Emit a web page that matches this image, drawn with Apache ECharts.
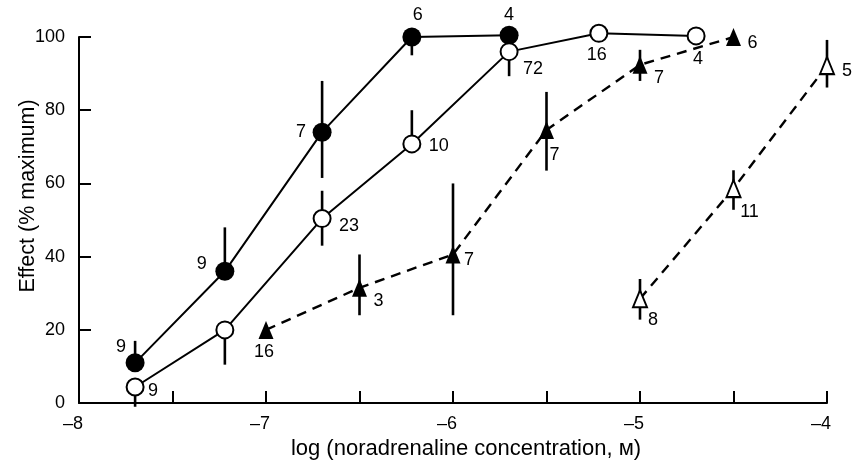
<!DOCTYPE html>
<html>
<head>
<meta charset="utf-8">
<script src="https://cdn.jsdelivr.net/npm/echarts@6/dist/echarts.min.js"></script>
<style>html,body{margin:0;padding:0;background:#fff}#c{width:852px;height:465px}</style>
</head>
<body>
<div id="c"></div>
<script>
// ---- data (log concentration, % maximum effect, error-bar ends, n) ----
const fcX = [-7.70, -7.22, -6.70, -6.22, -5.70];
const fcY = [11, 36, 74, 100, 100.5];
const fcLo = [null, null, 61.5, 95, null];
const fcHi = [17, 48, 88, null, null];
const fcN = ['9', '9', '7', '6', '4'];

const ocX = [-7.70, -7.22, -6.70, -6.22, -5.70, -5.22, -4.70];
const ocY = [4.4, 20, 50.4, 70.8, 96, 101, 100.3];
const ocLo = [-1, 10.5, 43, null, 89.3, null, null];
const ocHi = [null, null, 58, 80, null, null, null];
const ocN = ['9', '', '23', '10', '72', '16', '4'];

const ftX = [-7, -6.5, -6, -5.5, -5, -4.5];
const ftY = [20, 31.5, 40.6, 74.6, 92.4, 100];
const ftLo = [null, 24, 24, 63.5, 88, null];
const ftHi = [null, 40.6, 60, 85, 96.5, null];
const ftN = ['16', '3', '7', '7', '7', '6'];

const otX = [-5, -4.5, -4];
const otY = [28.5, 58.6, 92.2];
const otLo = [22.8, 52.8, 86.2];
const otHi = [33.9, 63.6, 99.2];
const otN = ['8', '11', '5'];

const xTicks = [-8, -7, -6, -5, -4];
const yTicks = [0, 20, 40, 60, 80, 100];

// ---- layout: label offsets (px) relative to marker centre ----
const fcOff = [[-14, -16], [-23, -7], [-21, 0], [6, -22], [0, -20]];
const ocOff = [[18, 4], [0, 0], [27, 7], [27, 2], [24, 17], [-2, 22], [2, 23]];
const ftOff = [[-2, 22], [19, 13], [16, 6], [8, 25], [19, 13], [19, 6]];
const otOff = [[13, 21], [16, 23], [20, 5]];

const FONT = 'Liberation Sans';

function pts(xs, ys, ns, offs) {
  return xs.map((x, i) => ({
    value: [x, ys[i]],
    label: {
      show: !!ns[i], formatter: ns[i], position: 'inside', offset: offs[i],
      color: '#000', fontSize: 18, fontFamily: FONT
    }
  }));
}
function errs(xs, ys, lo, hi) {
  const out = [];
  xs.forEach((x, i) => {
    if (lo[i] === null && hi[i] === null) return;
    out.push([x, lo[i] === null ? ys[i] : lo[i], hi[i] === null ? ys[i] : hi[i]]);
  });
  return out;
}
function errSeries(data) {
  return {
    type: 'custom', z: 1, silent: true,
    data: data,
    encode: { x: 0, y: [1, 2] },
    renderItem: function (params, api) {
      const x = api.value(0);
      const p1 = api.coord([x, api.value(1)]);
      const p2 = api.coord([x, api.value(2)]);
      return { type: 'line', shape: { x1: p1[0], y1: p1[1], x2: p2[0], y2: p2[1] },
               style: { stroke: '#000', lineWidth: 2.6 } };
    }
  };
}

const filled = { color: '#000' };
const open = { color: '#fff', borderColor: '#000', borderWidth: 2 };

const chart = echarts.init(document.getElementById('c'), null, { renderer: 'canvas' });
chart.setOption({
  animation: false,
  backgroundColor: '#fff',
  grid: { left: 79, right: 25, top: 37, bottom: 58 },
  xAxis: {
    type: 'value', min: xTicks[0], max: xTicks[xTicks.length - 1], interval: 0.5,
    axisLine: { lineStyle: { color: '#000', width: 2 } },
    axisTick: { inside: true, length: 12, lineStyle: { color: '#000', width: 2 } },
    splitLine: { show: false },
    axisLabel: {
      margin: 12, color: '#000', fontSize: 18, fontFamily: FONT, padding: [0, 12, 0, 0],
      formatter: v => xTicks.includes(v) ? '\u2013' + Math.abs(v) : ''
    },
    name: 'log (noradrenaline concentration, \u043c)', nameLocation: 'middle', nameGap: 34,
    nameTextStyle: { color: '#000', fontSize: 22, fontFamily: FONT, padding: [0, 0, 0, 26] }
  },
  yAxis: {
    type: 'value', min: yTicks[0], max: yTicks[yTicks.length - 1], interval: 20,
    axisLine: { show: true, lineStyle: { color: '#000', width: 2 } },
    axisTick: { show: true, inside: true, length: 12, lineStyle: { color: '#000', width: 2 } },
    splitLine: { show: false },
    axisLabel: { margin: 14, color: '#000', fontSize: 18, fontFamily: FONT }
  },
  graphic: [{
    type: 'text', x: 28, y: 196, rotation: Math.PI / 2,
    style: { text: 'Effect (% maximum)', fill: '#000', fontSize: 21.5, fontFamily: FONT,
             textAlign: 'center', textVerticalAlign: 'middle' }
  }],
  series: [
    errSeries(errs(fcX, fcY, fcLo, fcHi)),
    errSeries(errs(ocX, ocY, ocLo, ocHi)),
    errSeries(errs(ftX, ftY, ftLo, ftHi)),
    errSeries(errs(otX, otY, otLo, otHi)),
    { type: 'line', z: 3, clip: false, data: pts(fcX, fcY, fcN, fcOff),
      symbol: 'circle', symbolSize: 19, itemStyle: filled,
      lineStyle: { color: '#000', width: 2 } },
    { type: 'line', z: 3, clip: false, data: pts(ocX, ocY, ocN, ocOff),
      symbol: 'circle', symbolSize: 17, itemStyle: open,
      lineStyle: { color: '#000', width: 2 } },
    { type: 'line', z: 3, clip: false, data: pts(ftX, ftY, ftN, ftOff),
      symbol: 'triangle', symbolSize: [15, 18], itemStyle: filled,
      lineStyle: { color: '#000', width: 2.4, type: [10, 7] } },
    { type: 'line', z: 3, clip: false, data: pts(otX, otY, otN, otOff),
      symbol: 'triangle', symbolSize: [14, 17], itemStyle: open,
      lineStyle: { color: '#000', width: 2.4, type: [10, 7] } }
  ]
});
</script>
</body>
</html>
